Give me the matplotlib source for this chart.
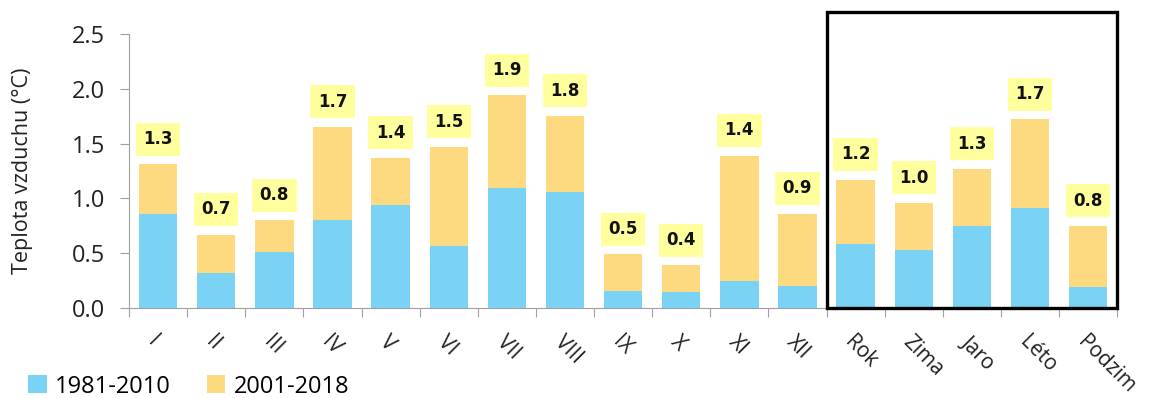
"""Stacked bars of air temperature change by month and season."""

import matplotlib

matplotlib.use("Agg")

import matplotlib.pyplot as plt  # noqa: E402
from matplotlib.patches import Rectangle  # noqa: E402

categories = ["I", "II", "III", "IV", "V", "VI", "VII", "VIII", "IX", "X", "XI", "XII",
              "Rok", "Zima", "Jaro", "Léto", "Podzim"]
base_1981_2010 = [0.86, 0.32, 0.51, 0.80, 0.94, 0.57, 1.09, 1.06, 0.16, 0.15, 0.25, 0.20,
                  0.58, 0.53, 0.75, 0.91, 0.19]
add_2001_2018 = [0.45, 0.35, 0.29, 0.85, 0.43, 0.90, 0.85, 0.69, 0.33, 0.24, 1.14, 0.66,
                 0.59, 0.43, 0.52, 0.81, 0.56]
total_labels = ["1.3", "0.7", "0.8", "1.7", "1.4", "1.5", "1.9", "1.8", "0.5", "0.4", "1.4",
                "0.9", "1.2", "1.0", "1.3", "1.7", "0.8"]

BLUE = "#7AD3F4"
ORANGE = "#FDDA80"
LABEL_BG = "#FFFF9E"
FONT = "Open Sans"
TEXT = "#222222"

fig = plt.figure(figsize=(11.49, 3.98), dpi=100)
ax = fig.add_axes([0.1123, 0.226, 0.860, 0.689])

x = list(range(len(categories)))
totals = [b + a for b, a in zip(base_1981_2010, add_2001_2018)]
ax.bar(x, base_1981_2010, width=0.66, color=BLUE, label="1981-2010")
ax.bar(x, add_2001_2018, width=0.66, bottom=base_1981_2010, color=ORANGE, label="2001-2018")

for xi, top, text in zip(x, totals, total_labels):
    ax.text(xi, top + 0.23, text, ha="center", va="center", fontsize=12, fontweight="bold",
            family="DejaVu Sans", color="#111111",
            bbox=dict(boxstyle="square,pad=0.45", facecolor=LABEL_BG, edgecolor="none"))

ax.set_xlim(-0.5, len(categories) - 0.5)
ax.set_ylim(0, 2.5)
ax.set_yticks([0, 0.5, 1.0, 1.5, 2.0, 2.5])
ax.set_yticklabels([f"{v:.1f}" for v in ax.get_yticks()], fontsize=17, family=FONT, color=TEXT)
ax.set_ylabel("Teplota vzduchu (°C)", fontsize=15.5, family=FONT, color=TEXT)
ax.yaxis.set_label_coords(-0.097, 0.5)

# category labels in the middle, tick marks on the boundaries
ax.set_xticks([i - 0.5 for i in range(len(categories) + 1)])
ax.set_xticklabels([])
ax.set_xticks(x, minor=True)
ax.set_xticklabels(categories, minor=True, rotation=-45, ha="left", rotation_mode="anchor",
                   fontsize=15, family=FONT, color=TEXT)
ax.tick_params(axis="x", which="minor", length=0, pad=17)
ax.tick_params(axis="x", which="major", length=6.5, color="#A0A0A0", direction="out")
ax.tick_params(axis="y", length=6.5, color="#A0A0A0", direction="out", pad=11)

for side in ("top", "right"):
    ax.spines[side].set_visible(False)
for side in ("left", "bottom"):
    ax.spines[side].set_color("#A0A0A0")

# frame around the annual / seasonal group
box = Rectangle((11.5, 0), 5.0, 2.7, fill=False, edgecolor="black", linewidth=2.4,
                clip_on=False, zorder=5)
ax.add_patch(box)

fig.legend(loc="lower left", bbox_to_anchor=(0.006, -0.055), ncol=2, frameon=False,
           handlelength=0.8, handleheight=0.8, handletextpad=0.35, columnspacing=1.5,
           prop={"family": FONT, "size": 17})

fig.savefig("out.png", dpi=100)
